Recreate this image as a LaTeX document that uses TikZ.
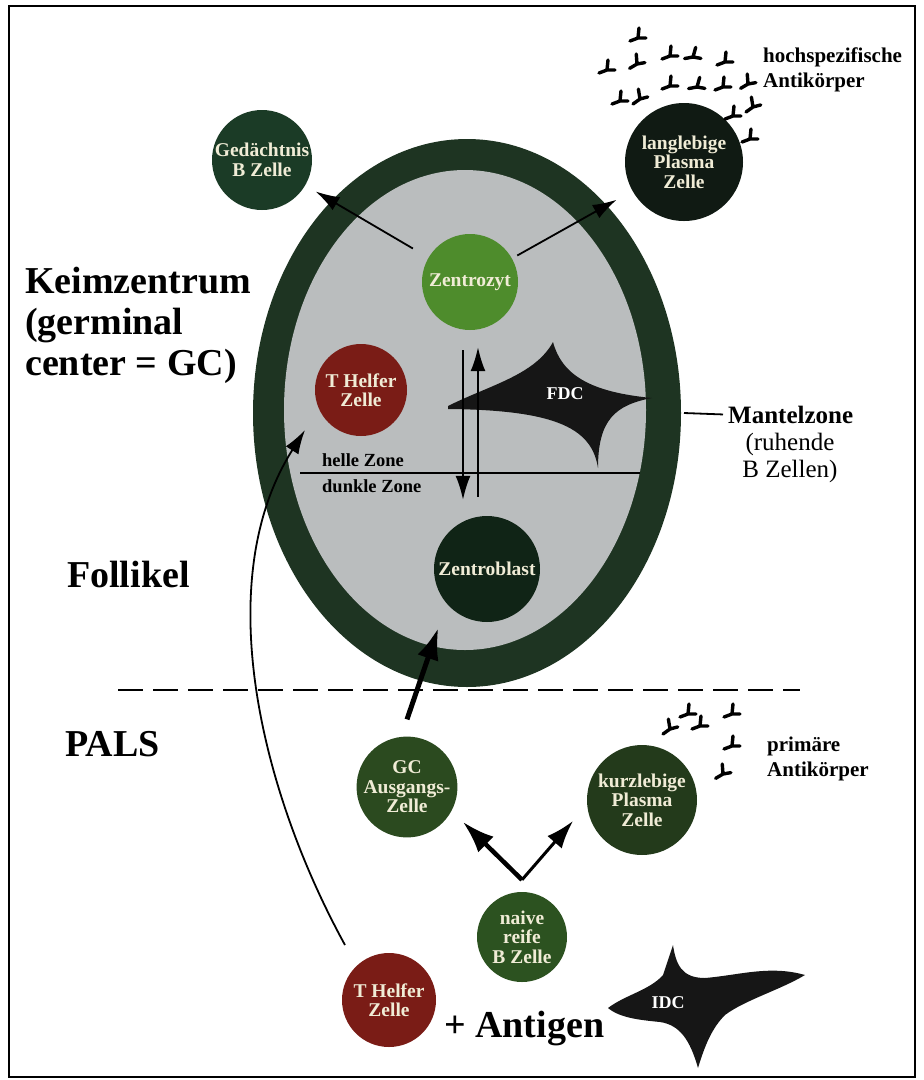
\documentclass[tikz,border=0pt]{standalone}
\usepackage{fontspec}
\setmainfont{Liberation Serif}
\usepackage{xcolor}
\usepackage{tikz}
\usetikzlibrary{shapes,arrows.meta,positioning}

\definecolor{mantel}{RGB}{30,52,34}
\definecolor{gcgrau}{RGB}{186,189,190}
\definecolor{gedgruen}{RGB}{27,59,38}
\definecolor{plasmaschwarz}{RGB}{16,26,19}
\definecolor{zzgruen}{RGB}{78,140,44}
\definecolor{trot}{RGB}{122,28,22}
\definecolor{zbgruen}{RGB}{16,36,22}
\definecolor{gcgruen}{RGB}{43,74,31}
\definecolor{kpgruen}{RGB}{35,58,27}
\definecolor{naivgruen}{RGB}{44,82,32}
\definecolor{zelltext}{RGB}{240,236,214}
\definecolor{dcschwarz}{RGB}{22,22,22}

\tikzset{
  zelle/.style={circle, inner sep=0pt, minimum size=#1, align=center,
    text=zelltext, font=\fontsize{19.5}{19.5}\selectfont\bfseries},
  titel/.style={font=\fontsize{38}{41}\selectfont\bfseries, align=left, inner sep=0pt},
  notiz/.style={font=\fontsize{21}{25}\selectfont\bfseries, align=left, inner sep=0pt},
  pfeil/.style={-{Latex[length=24pt,width=15pt]}, line width=1.8pt},
  dick/.style={-{Latex[length=32pt,width=22pt]}},
  ak/.pic={\draw[line width=3.4pt, line cap=round] (-8,3) -- (0,0) -- (8,0) (0,0) -- (1,-10);}
}

\begin{document}
\begin{tikzpicture}[x=1pt, y=-1pt]
\useasboundingbox (0,0) rectangle (924,1080);
\draw[line width=2.5pt] (9,6) rectangle (915,1077);

% follicle: mantle zone and germinal centre
\fill[mantel] (467,413) ellipse [x radius=214, y radius=274];
\fill[gcgrau] (465,410) ellipse [x radius=181, y radius=240];
\draw[line width=1.8pt] (300,473) -- (640,473);
\node[font=\fontsize{18.5}{19}\selectfont\bfseries, anchor=base west, inner sep=0pt] (hz) at (322,466) {helle Zone};
\node[font=\fontsize{18.5}{19}\selectfont\bfseries, anchor=base west, inner sep=0pt] (dz) at (322,492) {dunkle Zone};

% FDC
\fill[dcschwarz] (448,406) .. controls (490,385) and (535,375) .. (553,342)
  .. controls (562,375) and (590,392) .. (652,398)
  .. controls (615,405) and (598,420) .. (598,468)
  .. controls (592,430) and (560,410) .. (448,409) -- cycle;
\node[font=\fontsize{18}{18}\selectfont\bfseries, text=white] (fdc) at (565,394) {FDC};

% cells
\node[zelle=100pt, fill=gedgruen] (gb) at (262,160) {Ged\"achtnis\\B Zelle};
\node[zelle=118pt, fill=plasmaschwarz] (lp) at (684,162) {langlebige\\Plasma\\Zelle};
\node[zelle=96pt, fill=zzgruen] (zz) at (470,282) {Zentrozyt};
\node[zelle=92pt, fill=trot] (th1) at (361,390) {T Helfer\\Zelle};
\node[zelle=106pt, fill=zbgruen] (zb) at (487,569) {Zentroblast};
\node[zelle=94pt, fill=gcgruen] (gc) at (407,787) {GC\\Ausgangs-\\Zelle};
\node[zelle=110pt, fill=kpgruen] (kp) at (642,800) {kurzlebige\\Plasma\\Zelle};
\node[zelle=90pt, fill=naivgruen] (nb) at (522,937) {naive\\reife\\B Zelle};
\node[zelle=94pt, fill=trot] (th2) at (389,1000) {T Helfer\\Zelle};

% IDC
\fill[dcschwarz] (608,1008) .. controls (625,995) and (650,990) .. (663,975)
  -- (673,945)
  .. controls (676,965) and (682,978) .. (705,978)
  .. controls (740,975) and (770,965) .. (805,975)
  .. controls (780,990) and (745,1000) .. (725,1015)
  .. controls (712,1028) and (705,1045) .. (698,1068)
  .. controls (690,1040) and (680,1025) .. (660,1022)
  .. controls (640,1020) and (620,1018) .. (608,1008) -- cycle;
\node[font=\fontsize{18}{18}\selectfont\bfseries, text=white] (idc) at (668,1003) {IDC};

% arrows
\draw[pfeil, shorten <=18pt, shorten >=12pt] (zz) -- (gb);
\draw[pfeil, shorten <=6pt, shorten >=18pt] (zz) -- (lp);
\draw[pfeil] ([shift={(-7pt,-20pt)}]zz.south) -- ([shift={(-24pt,16pt)}]zb.north);
\draw[pfeil] ([shift={(-9pt,19pt)}]zb.north) -- ([shift={(8pt,-17pt)}]zz.south);
\draw[pfeil, dick, line width=5pt] ([yshift=17pt]gc.north) -- ([shift={(-11pt,-21pt)}]zb.south west);
\draw[pfeil] ([shift={(-44pt,55pt)}]th2.center) .. controls (260,790) and (210,580) .. ([shift={(-56pt,-40pt)}]th1.center);
\coordinate (gabel) at ([yshift=12pt]nb.north);
\draw[pfeil, dick, line width=4.5pt] (gabel) -- ([shift={(56pt,-35pt)}]gc.center);
\draw[pfeil, line width=3pt, -{Latex[length=28pt,width=19pt]}] (gabel) -- ([shift={(-69pt,-21pt)}]kp.center);

% boundary follicle / PALS
\draw[line width=2pt, dash pattern=on 25pt off 10pt] (118,690) -- (800,690);

% labels
\node[titel, anchor=north west] (kz) at (25,267) {Keimzentrum\\(germinal\\center = GC)};
\node[titel, anchor=base west] (fol) at (67,587) {Follikel};
\node[titel, anchor=base west] (pals) at (65,756) {PALS};
\node[font=\fontsize{25}{27}\selectfont\bfseries, anchor=base west, inner sep=0pt] (mz) at (728,423) {Mantelzone};
\node[font=\fontsize{25}{27}\selectfont, align=center, anchor=north, inner sep=0pt] (rz) at (790,433) {(ruhende\\B Zellen)};
\coordinate (ring) at (684,413);
\draw[line width=1.8pt] (ring) -- ([xshift=-5pt]mz.west);
\node[notiz, anchor=north west] (hsak) at (763,48) {hochspezifische\\Antik\"orper};
\node[notiz, anchor=north west] (prak) at (767,737) {prim\"are\\Antik\"orper};
\node[font=\fontsize{38}{40}\selectfont\bfseries, anchor=base west, inner sep=0pt] (ag) at (444,1037) {+ Antigen};

% antibodies
\foreach \px/\py/\w in {638/38/0, 607/70/0, 637/64/10, 670/56/0, 693/57/-10,
    725/62/0, 620/101/0, 640/99/15, 670/86/0, 697/87/-10, 723/87/0, 748/84/10,
    733/116/0, 753/107/15, 750/139/0}
  \pic[rotate=\w] at (\px,\py) {ak};
\foreach \px/\py/\w in {688/714/0, 670/729/15, 700/726/0, 732/714/0, 732/746/0, 723/774/10}
  \pic[rotate=\w] at (\px,\py) {ak};
\end{tikzpicture}
\end{document}
